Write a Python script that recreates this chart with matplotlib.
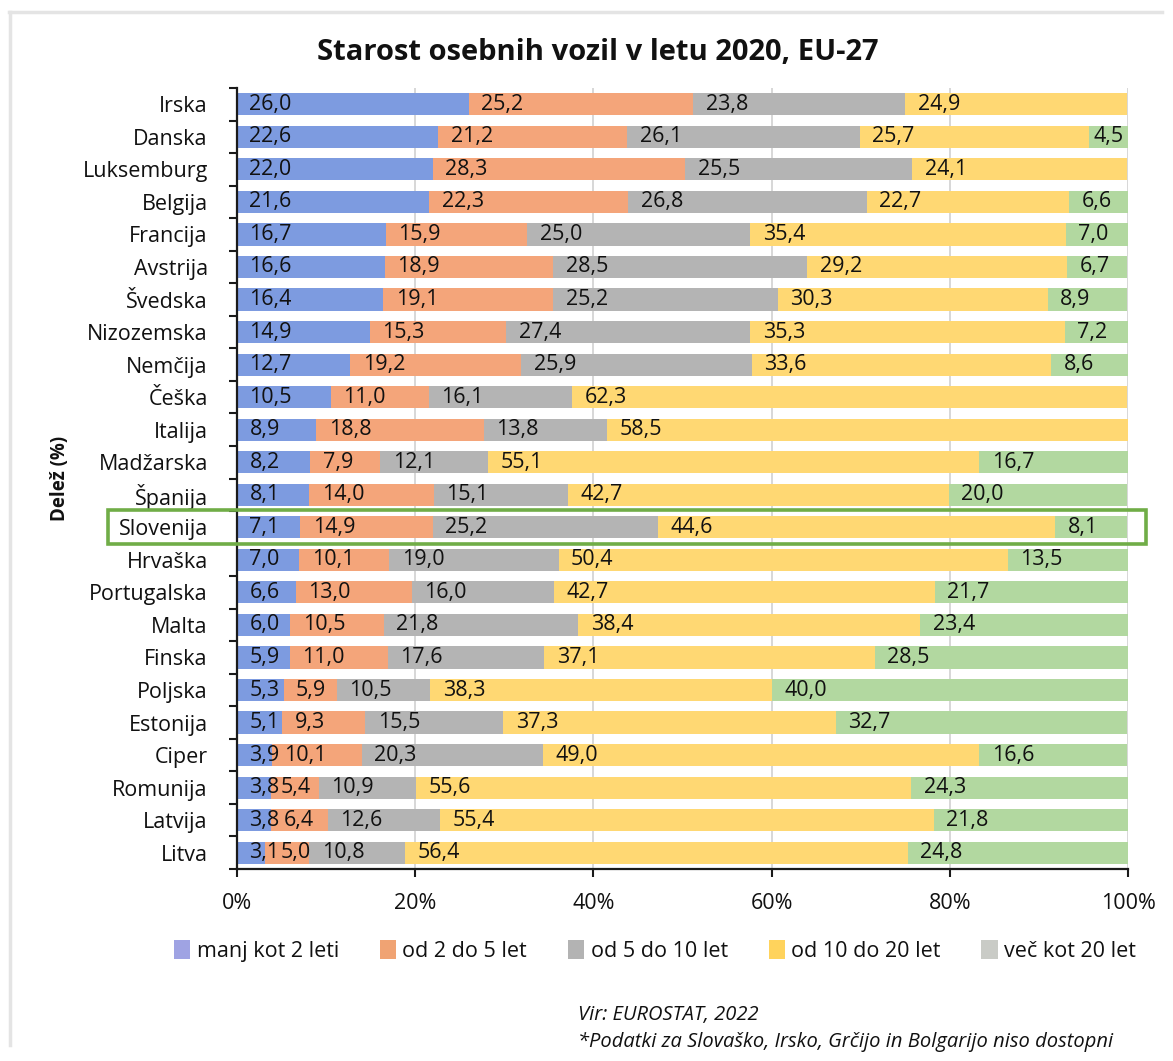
import matplotlib
matplotlib.use("Agg")
import matplotlib.pyplot as plt
from matplotlib import font_manager
from matplotlib.patches import Rectangle, Patch
from matplotlib.lines import Line2D
import numpy as np

countries = ["Irska", "Danska", "Luksemburg", "Belgija", "Francija", "Avstrija",
             "Švedska", "Nizozemska", "Nemčija", "Češka", "Italija", "Madžarska",
             "Španija", "Slovenija", "Hrvaška", "Portugalska", "Malta", "Finska",
             "Poljska", "Estonija", "Ciper", "Romunija", "Latvija", "Litva"]

under_2 = [26.0, 22.6, 22.0, 21.6, 16.7, 16.6, 16.4, 14.9, 12.7, 10.5, 8.9, 8.2,
           8.1, 7.1, 7.0, 6.6, 6.0, 5.9, 5.3, 5.1, 3.9, 3.8, 3.8, 3.1]
from_2_to_5 = [25.2, 21.2, 28.3, 22.3, 15.9, 18.9, 19.1, 15.3, 19.2, 11.0, 18.8, 7.9,
               14.0, 14.9, 10.1, 13.0, 10.5, 11.0, 5.9, 9.3, 10.1, 5.4, 6.4, 5.0]
from_5_to_10 = [23.8, 26.1, 25.5, 26.8, 25.0, 28.5, 25.2, 27.4, 25.9, 16.1, 13.8, 12.1,
                15.1, 25.2, 19.0, 16.0, 21.8, 17.6, 10.5, 15.5, 20.3, 10.9, 12.6, 10.8]
from_10_to_20 = [24.9, 25.7, 24.1, 22.7, 35.4, 29.2, 30.3, 35.3, 33.6, 62.3, 58.5, 55.1,
                 42.7, 44.6, 50.4, 42.7, 38.4, 37.1, 38.3, 37.3, 49.0, 55.6, 55.4, 56.4]
over_20 = [0.0, 4.5, 0.0, 6.6, 7.0, 6.7, 8.9, 7.2, 8.6, 0.0, 0.0, 16.7,
           20.0, 8.1, 13.5, 21.7, 23.4, 28.5, 40.0, 32.7, 16.6, 24.3, 21.8, 24.8]

series_names = ["manj kot 2 leti", "od 2 do 5 let", "od 5 do 10 let",
                "od 10 do 20 let", "več kot 20 let"]
series = [under_2, from_2_to_5, from_5_to_10, from_10_to_20, over_20]
bar_colors = ["#7d9be0", "#f4a57a", "#b4b4b4", "#ffd873", "#b2d8a0"]
legend_colors = ["#9fa3e3", "#f0a373", "#b3b3b3", "#ffd35c", "#c9cbc6"]
xticks = [0, 20, 40, 60, 80, 100]
xtick_labels = ["0%", "20%", "40%", "60%", "80%", "100%"]
highlight = "Slovenija"

title = "Starost osebnih vozil v letu 2020, EU-27"
ylabel = "Delež (%)"
source1 = "Vir: EUROSTAT, 2022"
source2 = "*Podatki za Slovaško, Irsko, Grčijo in Bolgarijo niso dostopni"

available = {f.name for f in font_manager.fontManager.ttflist}
base_font = "Open Sans" if "Open Sans" in available else "DejaVu Sans"
narrow_font = "Liberation Sans Narrow" if "Liberation Sans Narrow" in available else base_font
plt.rcParams["font.family"] = [base_font, "DejaVu Sans"]

TXT = "#111111"
FS = 15.5

W, H, DPI = 1173, 1061, 100
fig = plt.figure(figsize=(W / DPI, H / DPI), dpi=DPI)
fig.patch.set_facecolor("white")

ax_left, ax_right = 237 / W, 1128 / W
ax_top, ax_bottom = 1 - 88 / H, 1 - 869 / H
ax = fig.add_axes([ax_left, ax_bottom, ax_right - ax_left, ax_top - ax_bottom])

n = len(countries)
y = np.arange(n)
left = np.zeros(n)
bars_all = []
for vals, col in zip(series, bar_colors):
    vals = np.array(vals)
    ax.barh(y, vals, left=left, height=0.68, color=col, edgecolor="none", zorder=2)
    bars_all.append((vals, left.copy()))
    left = left + vals

ax.set_xlim(0, 100)
ax.set_ylim(n - 0.5, -0.5)

ax.set_xticks(xticks)
ax.set_xticklabels(xtick_labels, fontsize=FS, color=TXT)
ax.set_yticks(y)
ax.set_yticklabels(countries, fontsize=FS, color=TXT)
ax.set_yticks(np.arange(n + 1) - 0.5, minor=True)
ax.tick_params(axis="y", which="major", length=0, pad=21)
ax.tick_params(axis="y", which="minor", length=6, width=1.5, color="#1a1a1a", direction="out")
ax.tick_params(axis="x", which="major", length=6, width=1.5, color="#1a1a1a", pad=11)

ax.grid(axis="x", color="#d4d4d4", linewidth=1.3, zorder=0)
ax.set_axisbelow(True)
for s in ["top", "right"]:
    ax.spines[s].set_visible(False)
for s in ["left", "bottom"]:
    ax.spines[s].set_color("#1a1a1a")
    ax.spines[s].set_linewidth(1.6)

# data labels
fig.canvas.draw()
renderer = fig.canvas.get_renderer()
px_per_pct = (ax_right - ax_left) * W / 100.0
prev_end = np.full(n, -100.0)
for si, (vals, lefts) in enumerate(bars_all):
    for i in range(n):
        v = vals[i]
        if v <= 0:
            continue
        txt = f"{v:.1f}".replace(".", ",")
        t = ax.text(lefts[i], y[i], txt, fontsize=FS, color=TXT,
                    va="center", ha="left", zorder=4)
        wpct = t.get_window_extent(renderer).width / px_per_pct
        if si == 0:
            off = 1.4
        else:
            off = min(1.4, max(0.3, (v - wpct) / 2))
        x0 = max(lefts[i] + off, prev_end[i] + 0.15)
        t.set_x(x0)
        prev_end[i] = x0 + wpct

# highlight box around Slovenia
hi = countries.index(highlight)
rect = Rectangle((-14.5, hi - 0.52), 116.5, 1.04, fill=False, edgecolor="#70ad47",
                 linewidth=2.6, clip_on=False, zorder=5)
ax.add_patch(rect)

fig.text(0.51, 1 - 52 / H, title, ha="center", va="center", fontsize=21,
         fontweight="bold", color=TXT)
fig.text(60 / W, 1 - 478 / H, ylabel, rotation=90, ha="center", va="center",
         fontsize=13.5, fontweight="bold", color=TXT)

handles = [Patch(facecolor=c, edgecolor="none") for c in legend_colors]
leg = fig.legend(handles, series_names, loc="center", bbox_to_anchor=(655 / W, 1 - 951 / H),
                 ncol=5, frameon=False, fontsize=FS, handlelength=0.75, handleheight=0.95,
                 handletextpad=0.3, columnspacing=1.9)
for t in leg.get_texts():
    t.set_color(TXT)

fig.text(578 / W, 1 - 1015 / H, source1, ha="left", va="center", fontsize=14.5,
         style="italic", family=[narrow_font, "DejaVu Sans"], color=TXT)
fig.text(578 / W, 1 - 1042 / H, source2, ha="left", va="center", fontsize=14.5,
         style="italic", family=[narrow_font, "DejaVu Sans"], color=TXT)

# faint outer frame (top and left edges)
fig.add_artist(Line2D([9 / W, 1162 / W], [1 - 12 / H, 1 - 12 / H], color="#e4e4e4",
                      linewidth=2.5, transform=fig.transFigure))
fig.add_artist(Line2D([10 / W, 10 / W], [1 - 12 / H, 1 - 1045 / H], color="#e4e4e4",
                      linewidth=2.5, transform=fig.transFigure))

fig.savefig("out.png", dpi=DPI, facecolor="white")
